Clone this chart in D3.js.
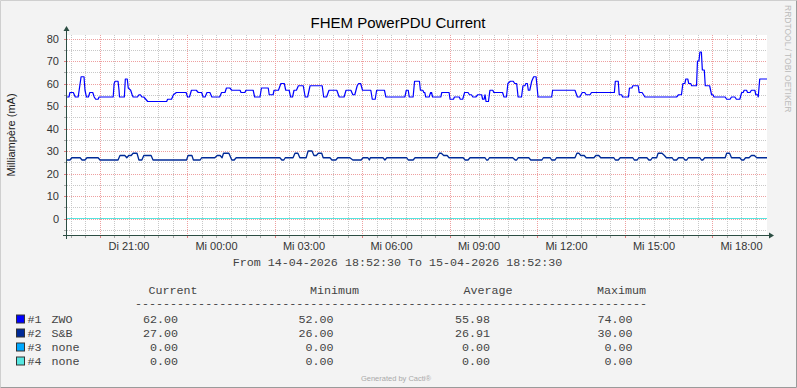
<!DOCTYPE html>
<html lang="de">
<head>
<meta charset="UTF-8">
<title>FHEM PowerPDU Current</title>
<script src="https://d3js.org/d3.v7.min.js"></script>
<style>
  body { margin: 0; padding: 0; background: #f3f3f3; }
  svg { display: block; }
</style>
</head>
<body>
<svg id="chart" width="797" height="388"></svg>
<script>
// ---- data (minutes after 14-04-2026 18:52:30, mA) ----
const zwo = [[0,54],[4,54],[6,56],[13,56],[15,55],[17,54],[23,54],[27,60],[29,63],[35,63],[37,57],[40,54],[44,54],[47,56],[53,56],[56,54],[59,53],[64,53],[66,54],[95,54],[97,60],[99,61],[105,61],[107,57],[108,54],[118,54],[120,62],[124,62],[126,58],[131,57],[134,55],[136,54],[145,54],[148,55],[151,55],[154,54],[158,54],[162,53],[166,52],[205,52],[207,53],[215,53],[219,55],[225,56],[245,56],[248,54],[252,54],[256,57],[266,57],[270,56],[277,56],[280,54],[284,54],[288,56],[294,56],[298,54],[314,54],[318,56],[325,56],[328,58],[335,58],[339,57],[356,57],
  [358,56],[366,56],[368,57],[383,57],[386,54],[397,54],[400,58],[414,58],[416,55],[424,55],[426,57],[435,57],[440,60],[447,60],[450,57],[457,57],[460,54],[464,54],[467,57],[472,57],[476,59],[486,59],[490,54],[495,54],[500,59],[525,59],[528,54],[534,54],[539,57],[555,57],[560,54],[570,54],[574,57],[584,57],[588,55],[592,55],[597,59],[600,60],[604,60],[608,57],[625,57],[628,53],[634,53],[637,57],[653,57],[656,54],[695,54],[698,57],[702,57],[704,54],[712,54],[715,61],[725,61],[727,57],[732,57],[734,56],[736,56],[738,54],[745,54],[748,56],[750,56],[752,54],[769,54],[771,56],[786,56],[788,53],[795,53],[797,54],[807,54],[809,53],[814,53],[818,56],[825,56],[828,55],[832,55],[835,54],[841,54],[845,55],[853,55],[855,53],[858,53],[860,55],[862,52],[867,52],[870,57],[876,57],[878,56],[896,56],[899,54],[904,54],[907,60],[912,61],[918,61],[921,60],[925,60],[928,54],[935,54],[938,59],[942,59],[944,60],[947,60],[949,57],[952,57],[956,61],[960,63],[965,63],[969,54],[997,54],[999,57],[1045,57],[1050,54],[1055,54],[1060,56],[1065,56],[1068,55],[1076,55],[1079,56],[1126,56],[1128,61],[1134,61],[1136,55],[1141,55],[1143,54],[1155,54],[1157,58],[1162,58],[1164,59],[1175,59],[1177,56],[1183,56],[1186,55],[1189,54],[1254,54],[1258,55],[1264,55],[1267,60],[1271,60],[1273,62],[1277,62],[1279,60],[1283,60],[1285,59],[1295,59],[1297,70],[1300,70],[1302,74],[1305,74],[1307,66],[1311,66],[1313,59],[1322,59],[1326,55],[1329,55],[1331,54],[1354,54],[1357,53],[1364,53],[1367,54],[1374,54],[1377,53],[1384,53],[1388,56],[1391,56],[1393,57],[1398,57],[1400,56],[1405,56],[1408,57],[1415,57],[1417,55],[1421,55],[1422,54],[1425,62],[1440,62]];

const snb = [[0,26],[6,26],[10,27],[27,27],[31,26],[37,26],[41,27],[64,27],[68,26],[105,26],[109,28],[119,28],[123,27],[127,28],[132,28],[136,29],[144,29],[148,26],[154,26],[158,28],[173,28],[177,26],[246,26],[249,28],[257,28],[260,26],[274,26],[277,27],[304,27],[309,28],[315,28],[319,27],[322,29],[333,29],[339,26],[344,26],[348,27],[438,27],[442,26],[446,26],[449,27],[465,27],[469,29],[475,29],[479,27],[492,27],[496,30],[504,30],[508,28],[513,28],[517,29],[524,29],[527,27],[541,27],[545,26],[553,26],[557,27],[582,27],[588,26],[605,26],[609,27],[619,27],[622,26],[624,27],[650,27],[654,26],[658,27],[699,27],[702,26],[712,26],[716,27],
  [761,27],[766,29],[770,29],[775,28],[782,28],[786,27],[815,27],[819,26],[825,26],[829,27],[860,27],[863,26],[866,26],[869,27],[917,27],[922,26],[925,26],[928,27],[950,27],[954,26],[977,26],[980,27],[994,27],[997,26],[1004,26],[1007,27],[1045,27],[1049,29],[1053,29],[1057,28],[1064,28],[1068,27],[1084,27],[1088,28],[1094,28],[1098,27],[1125,27],[1128,26],[1134,26],[1138,27],[1164,27],[1167,26],[1173,26],[1176,27],[1193,27],[1197,26],[1201,26],[1204,27],[1213,27],[1216,29],[1224,29],[1229,28],[1233,27],[1245,27],[1248,26],[1254,26],[1258,27],[1268,27],[1271,26],[1275,26],[1278,27],[1302,27],[1305,26],[1308,26],[1312,27],[1354,27],[1357,29],[1363,29],[1367,27],[1384,27],[1388,26],[1392,26],[1396,27],[1403,27],[1408,28],[1414,28],[1419,27],[1440,27]];

const none3 = [[0,0],[1440,0]];
const none4 = [[0,0],[1440,0]];

const legendIds = ["#1", "#2", "#3", "#4"];
const legendNames = ["ZWO", "S&B", "none", "none"];
const current = [62.00, 27.00, 0.00, 0.00];
const minimum = [52.00, 26.00, 0.00, 0.00];
const average = [55.98, 26.91, 0.00, 0.00];
const maximum = [74.00, 30.00, 0.00, 0.00];
const columns = ["Current", "Minimum", "Average", "Maximum"];
const dayNames = ["So", "Mo", "Di", "Mi", "Do", "Fr", "Sa"];
const yTicks = [0, 10, 20, 30, 40, 50, 60, 70, 80];

const colors = ["#0000ff", "#002a97", "#00a8ff", "#55e6e0"];

const start = new Date(2026, 3, 14, 18, 52, 30);
const end = new Date(2026, 3, 15, 18, 52, 30);
const toDate = m => new Date(start.getTime() + m * 60000);

const svg = d3.select("#chart");
const W = 797, H = 388;
const pL = 67, pR = 767, pT = 35, pB = 235;

svg.append("rect").attr("width", W).attr("height", H).attr("fill", "#f3f3f3");
// frame
svg.append("path").attr("d", `M0.5,${H-0.5}V0.5H${W-0.5}`).attr("stroke", "#cfcfcf").attr("fill", "none");
svg.append("path").attr("d", `M0.5,${H-0.5}H${W-0.5}V0.5`).attr("stroke", "#9a9a9a").attr("fill", "none");

const x = d3.scaleTime().domain([start, end]).range([pL, pR]);
const y = d3.scaleLinear().domain([-7.333, 81.556]).range([pB, pT]);

svg.append("rect").attr("x", pL).attr("y", pT)
  .attr("width", pR - pL).attr("height", pB - pT).attr("fill", "#ffffff");

// grid
const g = svg.append("g");
const minorX = d3.timeMinute.every(30).range(start, end);
const majorX = d3.timeHour.range(start, end).filter(d => (d.getHours() + 1) % 3 === 0);
const minorY = d3.range(-5, 81, 5).filter(v => v % 10 !== 0);

g.selectAll(".vmin").data(minorX).enter().append("line")
  .attr("x1", d => Math.round(x(d)) + 0.5).attr("x2", d => Math.round(x(d)) + 0.5)
  .attr("y1", pT).attr("y2", pB)
  .attr("stroke", "#c8c8c8").attr("stroke-dasharray", "1,1");
g.selectAll(".hmin").data(minorY).enter().append("line")
  .attr("x1", pL).attr("x2", pR)
  .attr("y1", d => Math.round(y(d)) + 0.5).attr("y2", d => Math.round(y(d)) + 0.5)
  .attr("stroke", "#c8c8c8").attr("stroke-dasharray", "1,1");
g.selectAll(".vmaj").data(majorX).enter().append("line")
  .attr("x1", d => Math.round(x(d)) + 0.5).attr("x2", d => Math.round(x(d)) + 0.5)
  .attr("y1", pT).attr("y2", pB)
  .attr("stroke", "#eea0a0").attr("stroke-dasharray", "1,1");
g.selectAll(".hmaj").data(yTicks).enter().append("line")
  .attr("x1", pL).attr("x2", pR)
  .attr("y1", d => Math.round(y(d)) + 0.5).attr("y2", d => Math.round(y(d)) + 0.5)
  .attr("stroke", "#eea0a0").attr("stroke-dasharray", "1,1");

// series
const line = d3.line().x(d => x(toDate(d[0]))).y(d => y(d[1]));
const series = [zwo, snb, none3, none4];
series.forEach((s, i) => {
  svg.append("path").datum(s).attr("d", line)
    .attr("fill", "none").attr("stroke", colors[i])
    .attr("stroke-width", i === 1 ? 1.3 : 1.2).attr("stroke-linejoin", "round");
});

// axes
const axisCol = "#2c4d43";
svg.append("line").attr("x1", pL - 0.5).attr("x2", pL - 0.5).attr("y1", pB + 4).attr("y2", pT - 5)
  .attr("stroke", axisCol);
svg.append("line").attr("x1", pL - 4).attr("x2", pR + 3).attr("y1", pB + 0.5).attr("y2", pB + 0.5)
  .attr("stroke", axisCol);
svg.append("path").attr("d", `M${pL - 3.5},${pT - 4}L${pL - 0.5},${pT - 9}L${pL + 2.5},${pT - 4}Z`).attr("fill", axisCol);
svg.append("path").attr("d", `M${pR + 2},${pB - 2.5}L${pR + 7},${pB + 0.5}L${pR + 2},${pB + 3.5}Z`).attr("fill", axisCol);

// axis ticks
svg.selectAll(".xt").data(minorX).enter().append("line")
  .attr("x1", d => Math.round(x(d)) + 0.5).attr("x2", d => Math.round(x(d)) + 0.5)
  .attr("y1", pB + 1).attr("y2", pB + 3)
  .attr("stroke", d => majorX.some(m => +m === +d) ? "#e08080" : "#aaaaaa");
svg.selectAll(".yt").data(minorY.concat(yTicks)).enter().append("line")
  .attr("x1", pL - 3).attr("x2", pL - 1)
  .attr("y1", d => Math.round(y(d)) + 0.5).attr("y2", d => Math.round(y(d)) + 0.5)
  .attr("stroke", d => d % 10 === 0 ? "#e08080" : "#aaaaaa");

const sans = "'Liberation Sans', Arial, sans-serif";
const mono = "'Liberation Mono', 'Courier New', monospace";

svg.selectAll(".yl").data(yTicks).enter().append("text")
  .attr("x", 59).attr("y", d => y(d) + 4)
  .attr("text-anchor", "end").attr("font-family", sans).attr("font-size", 11).attr("fill", "#333")
  .text(d => d);

const labelTimes = d3.timeHour.every(3).range(start, end);
svg.selectAll(".xl").data(labelTimes).enter().append("text")
  .attr("x", d => x(d)).attr("y", 250)
  .attr("text-anchor", "middle").attr("font-family", sans).attr("font-size", 11).attr("fill", "#333")
  .text(d => dayNames[d.getDay()] + " " + d3.timeFormat("%H:%M")(d));

// title and labels
svg.append("text").attr("x", 398).attr("y", 28).attr("text-anchor", "middle")
  .attr("font-family", sans).attr("font-size", 15).attr("fill", "#000")
  .text("FHEM PowerPDU Current");
svg.append("text").attr("transform", "translate(15,135) rotate(-90)").attr("text-anchor", "middle")
  .attr("font-family", sans).attr("font-size", 11).attr("fill", "#222")
  .text("Milliampère (mA)");
svg.append("text").attr("transform", "translate(785,5) rotate(90)").attr("text-anchor", "start")
  .attr("font-family", sans).attr("font-size", 8.5).attr("fill", "#bbbbbb")
  .text("RRDTOOL / TOBI OETIKER");

const fmt = d3.format(".2f");
const monoSize = 11.7;
const legendInk = "#444";
svg.append("text").attr("x", 397.5).attr("y", 266).attr("text-anchor", "middle")
  .attr("font-family", mono).attr("font-size", monoSize).attr("fill", legendInk)
  .text("From " + d3.timeFormat("%d-%m-%Y %H:%M:%S")(start) + " To " + d3.timeFormat("%d-%m-%Y %H:%M:%S")(end));

// legend
const headX = [148.5, 310, 463.5, 597];
const valX = [178, 333.5, 490, 632.5];
svg.selectAll(".lh").data(columns).enter().append("text")
  .attr("x", (d, i) => headX[i]).attr("y", 294)
  .attr("font-family", mono).attr("font-size", monoSize).attr("fill", legendInk)
  .text(d => d);
svg.append("text").attr("x", 135).attr("y", 307)
  .attr("font-family", mono).attr("font-size", monoSize).attr("fill", legendInk)
  .text("-".repeat(73));

const stats = [current, minimum, average, maximum];
legendNames.forEach((name, i) => {
  const by = 322.5 + i * 14;
  svg.append("rect").attr("x", 16.5).attr("y", by - 7.5).attr("width", 8).attr("height", 8)
    .attr("fill", colors[i]).attr("stroke", "#333");
  svg.append("text").attr("x", 27.5).attr("y", by)
    .attr("font-family", mono).attr("font-size", monoSize).attr("fill", legendInk).text(legendIds[i]);
  svg.append("text").attr("x", 51.5).attr("y", by)
    .attr("font-family", mono).attr("font-size", monoSize).attr("fill", legendInk).text(name);
  stats.forEach((col, j) => {
    svg.append("text").attr("x", valX[j]).attr("y", by).attr("text-anchor", "end")
      .attr("font-family", mono).attr("font-size", monoSize).attr("fill", legendInk).text(fmt(col[i]));
  });
});

svg.append("text").attr("x", 396).attr("y", 381).attr("text-anchor", "middle")
  .attr("font-family", sans).attr("font-size", 7.5).attr("fill", "#aaaaaa")
  .text("Generated by Cacti®");
</script>
</body>
</html>
